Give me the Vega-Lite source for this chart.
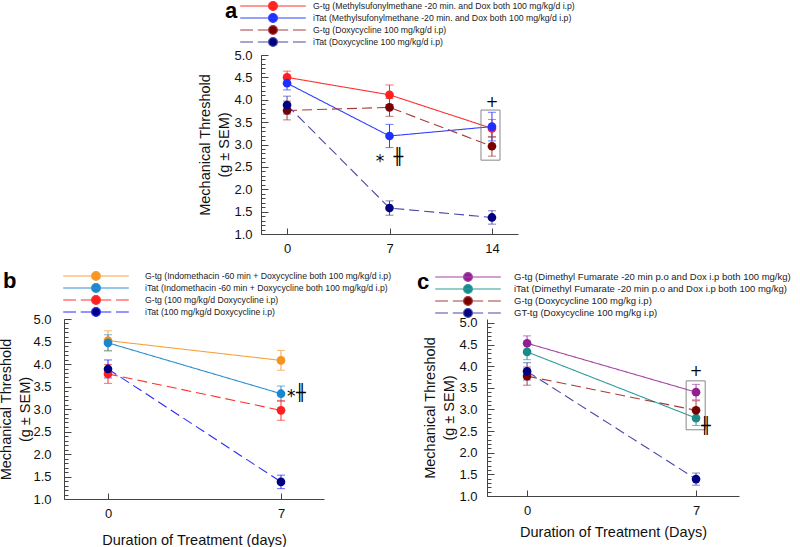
{
  "$schema": "https://vega.github.io/schema/vega-lite/v6.json",
  "background": "white",
  "padding": {"left": -2, "top": 1, "right": 0, "bottom": 0},
  "spacing": 16,
  "resolve": {"scale": {"x": "independent", "y": "independent", "color": "independent", "fill": "independent", "stroke": "independent", "shape": "independent", "strokeDash": "independent", "size": "independent"}, "legend": {"fill": "independent", "stroke": "independent", "shape": "independent", "color": "independent", "strokeDash": "independent", "size": "independent"}},
  "config": {
    "font": "Liberation Sans",
    "view": {"stroke": null},
    "axis": {"labelFont": "Liberation Sans", "titleFont": "Liberation Sans", "labelFontSize": 13, "titleFontSize": 14.5, "titleFontWeight": "normal", "labelColor": "#111", "titleColor": "#111", "domainColor": "#444", "tickColor": "#444", "grid": false, "titleLineHeight": 19},
    "legend": {"labelFont": "Liberation Sans", "labelColor": "#222", "titleFont": "Liberation Sans", "titleColor": "#000", "labelLimit": 600, "titleLimit": 100, "symbolSize": 64, "symbolStrokeWidth": 1.2, "rowPadding": 0, "padding": 0}
  },
  "datasets": {
    "a": [
      {"series": "G-tg (Methylsufonylmethane -20 min. and Dox both 100 mg/kg/d i.p)", "day": 0, "mean": 4.50, "sem": 0.14},
      {"series": "G-tg (Methylsufonylmethane -20 min. and Dox both 100 mg/kg/d i.p)", "day": 7, "mean": 4.11, "sem": 0.22},
      {"series": "G-tg (Methylsufonylmethane -20 min. and Dox both 100 mg/kg/d i.p)", "day": 14, "mean": 3.36, "sem": 0.20},
      {"series": "iTat (Methylsufonylmethane -20 min. and Dox both 100 mg/kg/d i.p)", "day": 0, "mean": 4.37, "sem": 0.15},
      {"series": "iTat (Methylsufonylmethane -20 min. and Dox both 100 mg/kg/d i.p)", "day": 7, "mean": 3.19, "sem": 0.26},
      {"series": "iTat (Methylsufonylmethane -20 min. and Dox both 100 mg/kg/d i.p)", "day": 14, "mean": 3.40, "sem": 0.32},
      {"series": "G-tg (Doxycycline 100 mg/kg/d i.p)", "day": 0, "mean": 3.76, "sem": 0.21},
      {"series": "G-tg (Doxycycline 100 mg/kg/d i.p)", "day": 7, "mean": 3.83, "sem": 0.20},
      {"series": "G-tg (Doxycycline 100 mg/kg/d i.p)", "day": 14, "mean": 2.96, "sem": 0.22},
      {"series": "iTat (Doxycycline 100 mg/kg/d i.p)", "day": 0, "mean": 3.88, "sem": 0.20},
      {"series": "iTat (Doxycycline 100 mg/kg/d i.p)", "day": 7, "mean": 1.58, "sem": 0.16},
      {"series": "iTat (Doxycycline 100 mg/kg/d i.p)", "day": 14, "mean": 1.37, "sem": 0.15}
    ],
    "a_box": [{"day": 13.25, "day2": 14.55, "mean": 2.65, "mean2": 3.77}],
    "a_txt": [
      {"label": "*", "day": 6.35, "mean": 2.62},
      {"label": "╫", "day": 7.6, "mean": 2.72},
      {"label": "+", "day": 14.0, "mean": 3.95}
    ],
    "b": [
      {"series": "G-tg (Indomethacin -60 min + Doxycycline both 100 mg/kg/d i.p)", "day": 0, "mean": 4.52, "sem": 0.22},
      {"series": "G-tg (Indomethacin -60 min + Doxycycline both 100 mg/kg/d i.p)", "day": 7, "mean": 4.08, "sem": 0.22},
      {"series": "iTat (Indomethacin -60 min + Doxycycline both 100 mg/kg/d i.p)", "day": 0, "mean": 4.47, "sem": 0.18},
      {"series": "iTat (Indomethacin -60 min + Doxycycline both 100 mg/kg/d i.p)", "day": 7, "mean": 3.34, "sem": 0.17},
      {"series": "G-tg (100 mg/kg/d Doxycycline i.p)", "day": 0, "mean": 3.78, "sem": 0.21},
      {"series": "G-tg (100 mg/kg/d Doxycycline i.p)", "day": 7, "mean": 2.97, "sem": 0.22},
      {"series": "iTat (100 mg/kg/d Doxycycline i.p)", "day": 0, "mean": 3.89, "sem": 0.20},
      {"series": "iTat (100 mg/kg/d Doxycycline i.p)", "day": 7, "mean": 1.38, "sem": 0.15}
    ],
    "b_txt": [
      {"label": "*", "day": 7.41, "mean": 3.26},
      {"label": "╫", "day": 7.8, "mean": 3.36}
    ],
    "c": [
      {"series": "G-tg (Dimethyl Fumarate -20 min p.o and Dox i.p both 100 mg/kg)", "day": 0, "mean": 4.53, "sem": 0.17},
      {"series": "G-tg (Dimethyl Fumarate -20 min p.o and Dox i.p both 100 mg/kg)", "day": 7, "mean": 3.40, "sem": 0.18},
      {"series": "iTat (Dimethyl Fumarate -20 min p.o and Dox i.p both 100 mg/kg)", "day": 0, "mean": 4.33, "sem": 0.18},
      {"series": "iTat (Dimethyl Fumarate -20 min p.o and Dox i.p both 100 mg/kg)", "day": 7, "mean": 2.80, "sem": 0.17},
      {"series": "G-tg (Doxycycline 100 mg/kg i.p)", "day": 0, "mean": 3.77, "sem": 0.21},
      {"series": "G-tg (Doxycycline 100 mg/kg i.p)", "day": 7, "mean": 2.98, "sem": 0.22},
      {"series": "GT-tg (Doxycycline 100 mg/kg i.p)", "day": 0, "mean": 3.88, "sem": 0.20},
      {"series": "GT-tg (Doxycycline 100 mg/kg i.p)", "day": 7, "mean": 1.39, "sem": 0.14}
    ],
    "c_box": [{"day": 6.59, "day2": 7.38, "mean": 2.53, "mean2": 3.66}],
    "c_txt": [
      {"label": "+", "day": 7.0, "mean": 3.89},
      {"label": "╫", "day": 7.41, "mean": 2.62}
    ]
  },
  "vconcat": [
    {
      "bounds": "flush",
      "spacing": 0,
      "resolve": {"scale": {"x": "independent", "y": "independent", "color": "independent", "fill": "independent", "stroke": "independent", "shape": "independent", "strokeDash": "independent", "size": "independent"}, "legend": {"fill": "independent", "stroke": "independent", "shape": "independent", "color": "independent", "strokeDash": "independent", "size": "independent"}},
      "hconcat": [
        {"width": 197, "height": 179, "data": {"values": [{}]}, "mark": {"type": "point", "opacity": 0}, "encoding": {}},
        {
          "width": 257, "height": 179,
          "data": {"name": "a"},
          "resolve": {"axis": {"y": "independent"}},
          "layer": [
            {
              "mark": {"type": "line", "strokeWidth": 1.1},
              "encoding": {
                "x": {"field": "day", "type": "quantitative", "scale": {"domain": [-1.78, 15.78], "nice": false, "zero": false}, "axis": {"values": [0, 7, 14], "format": "d", "tickSize": -6, "labelPadding": 14, "title": null}},
                "y": {"field": "mean", "type": "quantitative", "scale": {"domain": [1, 5], "nice": false, "zero": false}, "axis": {"orient": "left", "values": [1, 1.5, 2, 2.5, 3, 3.5, 4, 4.5, 5], "format": ".1f", "tickSize": -7, "labelPadding": 16, "title": ["Mechanical Threshold", "(g ± SEM)"], "titlePadding": 2}},
                "color": {"field": "series", "type": "nominal", "scale": {"domain": ["iTat (Methylsufonylmethane -20 min. and Dox both 100 mg/kg/d i.p)", "G-tg (Methylsufonylmethane -20 min. and Dox both 100 mg/kg/d i.p)", "G-tg (Doxycycline 100 mg/kg/d i.p)", "iTat (Doxycycline 100 mg/kg/d i.p)"], "range": ["#3040ff", "#ff3030", "#a53c3c", "#4a4aa8"]}, "legend": null},
                "strokeDash": {"field": "series", "type": "nominal", "scale": {"domain": ["iTat (Methylsufonylmethane -20 min. and Dox both 100 mg/kg/d i.p)", "G-tg (Methylsufonylmethane -20 min. and Dox both 100 mg/kg/d i.p)", "G-tg (Doxycycline 100 mg/kg/d i.p)", "iTat (Doxycycline 100 mg/kg/d i.p)"], "range": [[1, 0], [1, 0], [10, 5], [10, 5]]}, "legend": null}
              }
            },
            {
              "mark": {"type": "errorbar", "ticks": {"size": 8}, "rule": {"strokeWidth": 1}},
              "encoding": {
                "x": {"field": "day", "type": "quantitative"},
                "y": {"field": "mean", "type": "quantitative", "axis": null},
                "yError": {"field": "sem"},
                "color": {"field": "series", "type": "nominal", "legend": null}
              }
            },
            {
              "data": {"values": []},
              "mark": {"type": "point", "filled": true, "opacity": 1, "strokeWidth": 1.2},
              "encoding": {
                "shape": {"field": "series", "type": "nominal", "scale": {"domain": ["G-tg (Methylsufonylmethane -20 min. and Dox both 100 mg/kg/d i.p)", "iTat (Methylsufonylmethane -20 min. and Dox both 100 mg/kg/d i.p)", "G-tg (Doxycycline 100 mg/kg/d i.p)", "iTat (Doxycycline 100 mg/kg/d i.p)"], "range": ["M-8.2,0H8.2M1.1,0A1.1,1.1,0,1,1,-1.1,0A1.1,1.1,0,1,1,1.1,0Z", "M-8.2,0H8.2M1.1,0A1.1,1.1,0,1,1,-1.1,0A1.1,1.1,0,1,1,1.1,0Z", "M-8.2,0H-5M-3.8,0H-1M1,0H3.8M5,0H8.2M1.1,0A1.1,1.1,0,1,1,-1.1,0A1.1,1.1,0,1,1,1.1,0Z", "M-8.2,0H-5M-3.8,0H-1M1,0H3.8M5,0H8.2M1.1,0A1.1,1.1,0,1,1,-1.1,0A1.1,1.1,0,1,1,1.1,0Z"]},
                  "legend": {"orient": "none", "legendX": -36, "legendY": -54, "title": "a", "titleOrient": "left", "titleFontSize": 22, "titleFontWeight": "bold", "titleAnchor": "start", "titleBaseline": "top", "titlePadding": 30, "labelFontSize": 8.7, "labelOffset": 35, "rowPadding": -3}},
                "stroke": {"field": "series", "type": "nominal", "scale": {"domain": ["G-tg (Methylsufonylmethane -20 min. and Dox both 100 mg/kg/d i.p)", "iTat (Methylsufonylmethane -20 min. and Dox both 100 mg/kg/d i.p)", "G-tg (Doxycycline 100 mg/kg/d i.p)", "iTat (Doxycycline 100 mg/kg/d i.p)"], "range": ["#ff3030", "#3040ff", "#a53c3c", "#4a4aa8"]},
                  "legend": {"orient": "none", "legendX": -36, "legendY": -54, "title": "a", "titleOrient": "left", "titleFontSize": 22, "titleFontWeight": "bold", "titleAnchor": "start", "titleBaseline": "top", "titlePadding": 30, "labelFontSize": 8.7, "labelOffset": 35, "rowPadding": -3}}
              }
            },
            {
              "mark": {"type": "point", "filled": true, "size": 75, "opacity": 1, "strokeWidth": 0},
              "encoding": {
                "x": {"field": "day", "type": "quantitative"},
                "y": {"field": "mean", "type": "quantitative", "axis": {"orient": "left", "values": [1, 1.1, 1.2, 1.3, 1.4, 1.5, 1.6, 1.7, 1.8, 1.9, 2, 2.1, 2.2, 2.3, 2.4, 2.5, 2.6, 2.7, 2.8, 2.9, 3, 3.1, 3.2, 3.3, 3.4, 3.5, 3.6, 3.7, 3.8, 3.9, 4, 4.1, 4.2, 4.3, 4.4, 4.5, 4.6, 4.7, 4.8, 4.9, 5], "tickSize": -4, "labels": false, "domain": false, "title": null}},
                "fill": {"field": "series", "type": "nominal", "scale": {"domain": ["G-tg (Methylsufonylmethane -20 min. and Dox both 100 mg/kg/d i.p)", "iTat (Methylsufonylmethane -20 min. and Dox both 100 mg/kg/d i.p)", "G-tg (Doxycycline 100 mg/kg/d i.p)", "iTat (Doxycycline 100 mg/kg/d i.p)"], "range": ["#ff1f1f", "#1f2fff", "#7a0000", "#000080"]},
                  "legend": {"orient": "none", "legendX": -36, "legendY": -54, "title": "a", "titleOrient": "left", "titleFontSize": 22, "titleFontWeight": "bold", "titleAnchor": "start", "titleBaseline": "top", "titlePadding": 30, "labelFontSize": 8.7, "labelOffset": 35, "rowPadding": -3}}
              }
            },
            {
              "data": {"name": "a_box"},
              "mark": {"type": "rect", "fill": null, "stroke": "#888888", "strokeWidth": 1},
              "encoding": {
                "x": {"field": "day", "type": "quantitative"}, "x2": {"field": "day2"},
                "y": {"field": "mean", "type": "quantitative", "axis": null}, "y2": {"field": "mean2"}
              }
            },
            {
              "data": {"name": "a_txt"},
              "mark": {"type": "text", "font": "DejaVu Sans", "color": "#000", "baseline": "middle", "align": "center"},
              "encoding": {
                "x": {"field": "day", "type": "quantitative"},
                "y": {"field": "mean", "type": "quantitative", "axis": null},
                "text": {"field": "label"},
                "size": {"field": "label", "type": "ordinal", "scale": {"domain": ["*", "╫", "+"], "range": [17, 15, 20]}, "legend": null}
              }
            }
          ]
        }
      ]
    },
    {
      "bounds": "flush",
      "spacing": 163,
      "resolve": {"scale": {"x": "independent", "y": "independent", "color": "independent", "fill": "independent", "stroke": "independent", "shape": "independent", "strokeDash": "independent", "size": "independent"}, "legend": {"fill": "independent", "stroke": "independent", "shape": "independent", "color": "independent", "strokeDash": "independent", "size": "independent"}},
      "hconcat": [
        {
          "width": 260, "height": 180,
          "data": {"name": "b"},
          "resolve": {"axis": {"y": "independent"}},
          "layer": [
            {
              "mark": {"type": "line", "strokeWidth": 1.1},
              "encoding": {
                "x": {"field": "day", "type": "quantitative", "scale": {"domain": [-1.78, 8.74], "nice": false, "zero": false}, "axis": {"values": [0, 7], "format": "d", "tickSize": -6, "labelPadding": 14, "title": "Duration of Treatment (days)", "titlePadding": 13}},
                "y": {"field": "mean", "type": "quantitative", "scale": {"domain": [1, 5], "nice": false, "zero": false}, "axis": {"orient": "left", "values": [1, 1.5, 2, 2.5, 3, 3.5, 4, 4.5, 5], "format": ".1f", "tickSize": -7, "labelPadding": 20, "title": ["Mechanical Threshold", "(g ± SEM)"], "titlePadding": 0}},
                "color": {"field": "series", "type": "nominal", "scale": {"domain": ["iTat (Indomethacin -60 min + Doxycycline both 100 mg/kg/d i.p)", "G-tg (Indomethacin -60 min + Doxycycline both 100 mg/kg/d i.p)", "G-tg (100 mg/kg/d Doxycycline i.p)", "iTat (100 mg/kg/d Doxycycline i.p)"], "range": ["#2e8fd0", "#f7a23e", "#ff3030", "#2a2aff"]}, "legend": null},
                "strokeDash": {"field": "series", "type": "nominal", "scale": {"domain": ["iTat (Indomethacin -60 min + Doxycycline both 100 mg/kg/d i.p)", "G-tg (Indomethacin -60 min + Doxycycline both 100 mg/kg/d i.p)", "G-tg (100 mg/kg/d Doxycycline i.p)", "iTat (100 mg/kg/d Doxycycline i.p)"], "range": [[1, 0], [1, 0], [10, 5], [10, 5]]}, "legend": null}
              }
            },
            {
              "mark": {"type": "errorbar", "ticks": {"size": 8}, "rule": {"strokeWidth": 1}},
              "encoding": {
                "x": {"field": "day", "type": "quantitative"},
                "y": {"field": "mean", "type": "quantitative", "axis": null},
                "yError": {"field": "sem"},
                "color": {"field": "series", "type": "nominal", "legend": null}
              }
            },
            {
              "data": {"values": []},
              "mark": {"type": "point", "filled": true, "opacity": 1, "strokeWidth": 1.2},
              "encoding": {
                "shape": {"field": "series", "type": "nominal", "scale": {"domain": ["G-tg (Indomethacin -60 min + Doxycycline both 100 mg/kg/d i.p)", "iTat (Indomethacin -60 min + Doxycycline both 100 mg/kg/d i.p)", "G-tg (100 mg/kg/d Doxycycline i.p)", "iTat (100 mg/kg/d Doxycycline i.p)"], "range": ["M-8.2,0H8.2M1.1,0A1.1,1.1,0,1,1,-1.1,0A1.1,1.1,0,1,1,1.1,0Z", "M-8.2,0H8.2M1.1,0A1.1,1.1,0,1,1,-1.1,0A1.1,1.1,0,1,1,1.1,0Z", "M-8.2,0H-5M-3.8,0H-1M1,0H3.8M5,0H8.2M1.1,0A1.1,1.1,0,1,1,-1.1,0A1.1,1.1,0,1,1,1.1,0Z", "M-8.2,0H-5M-3.8,0H-1M1,0H3.8M5,0H8.2M1.1,0A1.1,1.1,0,1,1,-1.1,0A1.1,1.1,0,1,1,1.1,0Z"]},
                  "legend": {"orient": "none", "legendX": -61, "legendY": -48, "title": "b", "titleOrient": "left", "titleFontSize": 22, "titleFontWeight": "bold", "titleAnchor": "start", "titleBaseline": "top", "titlePadding": 74, "labelFontSize": 8.7, "labelOffset": 44, "rowPadding": -4}},
                "stroke": {"field": "series", "type": "nominal", "scale": {"domain": ["G-tg (Indomethacin -60 min + Doxycycline both 100 mg/kg/d i.p)", "iTat (Indomethacin -60 min + Doxycycline both 100 mg/kg/d i.p)", "G-tg (100 mg/kg/d Doxycycline i.p)", "iTat (100 mg/kg/d Doxycycline i.p)"], "range": ["#f7a23e", "#2e8fd0", "#ff3030", "#2a2aff"]},
                  "legend": {"orient": "none", "legendX": -61, "legendY": -48, "title": "b", "titleOrient": "left", "titleFontSize": 22, "titleFontWeight": "bold", "titleAnchor": "start", "titleBaseline": "top", "titlePadding": 74, "labelFontSize": 8.7, "labelOffset": 44, "rowPadding": -4}}
              }
            },
            {
              "mark": {"type": "point", "filled": true, "size": 75, "opacity": 1, "strokeWidth": 0},
              "encoding": {
                "x": {"field": "day", "type": "quantitative"},
                "y": {"field": "mean", "type": "quantitative", "axis": {"orient": "left", "values": [1, 1.1, 1.2, 1.3, 1.4, 1.5, 1.6, 1.7, 1.8, 1.9, 2, 2.1, 2.2, 2.3, 2.4, 2.5, 2.6, 2.7, 2.8, 2.9, 3, 3.1, 3.2, 3.3, 3.4, 3.5, 3.6, 3.7, 3.8, 3.9, 4, 4.1, 4.2, 4.3, 4.4, 4.5, 4.6, 4.7, 4.8, 4.9, 5], "tickSize": -4, "labels": false, "domain": false, "title": null}},
                "fill": {"field": "series", "type": "nominal", "scale": {"domain": ["G-tg (Indomethacin -60 min + Doxycycline both 100 mg/kg/d i.p)", "iTat (Indomethacin -60 min + Doxycycline both 100 mg/kg/d i.p)", "G-tg (100 mg/kg/d Doxycycline i.p)", "iTat (100 mg/kg/d Doxycycline i.p)"], "range": ["#f7931e", "#1a86cc", "#ff1f1f", "#000080"]},
                  "legend": {"orient": "none", "legendX": -61, "legendY": -48, "title": "b", "titleOrient": "left", "titleFontSize": 22, "titleFontWeight": "bold", "titleAnchor": "start", "titleBaseline": "top", "titlePadding": 74, "labelFontSize": 8.7, "labelOffset": 44, "rowPadding": -4}}
              }
            },
            {
              "data": {"name": "b_txt"},
              "mark": {"type": "text", "font": "DejaVu Sans", "color": "#000", "baseline": "middle", "align": "center"},
              "encoding": {
                "x": {"field": "day", "type": "quantitative"},
                "y": {"field": "mean", "type": "quantitative", "axis": null},
                "text": {"field": "label"},
                "size": {"field": "label", "type": "ordinal", "scale": {"domain": ["*", "╫", "+"], "range": [17, 15, 20]}, "legend": null}
              }
            }
          ]
        },
        {
          "width": 252, "height": 177,
          "data": {"name": "c"},
          "resolve": {"axis": {"y": "independent"}},
          "layer": [
            {
              "mark": {"type": "line", "strokeWidth": 1.1},
              "encoding": {
                "x": {"field": "day", "type": "quantitative", "scale": {"domain": [-1.66, 8.78], "nice": false, "zero": false}, "axis": {"values": [0, 7], "format": "d", "tickSize": -6, "labelPadding": 14, "title": "Duration of Treatment (Days)", "titlePadding": 8}},
                "y": {"field": "mean", "type": "quantitative", "scale": {"domain": [1, 5.09], "nice": false, "zero": false}, "axis": {"orient": "left", "values": [1, 1.5, 2, 2.5, 3, 3.5, 4, 4.5, 5], "format": ".1f", "tickSize": -7, "labelPadding": 17, "title": ["Mechanical Threshold", "(g ± SEM)"], "titlePadding": 2}},
                "color": {"field": "series", "type": "nominal", "scale": {"domain": ["iTat (Dimethyl Fumarate -20 min p.o and Dox i.p both 100 mg/kg)", "G-tg (Dimethyl Fumarate -20 min p.o and Dox i.p both 100 mg/kg)", "G-tg (Doxycycline 100 mg/kg i.p)", "GT-tg (Doxycycline 100 mg/kg i.p)"], "range": ["#2d9c9c", "#a545a5", "#a53c3c", "#4a4aa8"]}, "legend": null},
                "strokeDash": {"field": "series", "type": "nominal", "scale": {"domain": ["iTat (Dimethyl Fumarate -20 min p.o and Dox i.p both 100 mg/kg)", "G-tg (Dimethyl Fumarate -20 min p.o and Dox i.p both 100 mg/kg)", "G-tg (Doxycycline 100 mg/kg i.p)", "GT-tg (Doxycycline 100 mg/kg i.p)"], "range": [[1, 0], [1, 0], [10, 5], [10, 5]]}, "legend": null}
              }
            },
            {
              "mark": {"type": "errorbar", "ticks": {"size": 8}, "rule": {"strokeWidth": 1}},
              "encoding": {
                "x": {"field": "day", "type": "quantitative"},
                "y": {"field": "mean", "type": "quantitative", "axis": null},
                "yError": {"field": "sem"},
                "color": {"field": "series", "type": "nominal", "legend": null}
              }
            },
            {
              "data": {"values": []},
              "mark": {"type": "point", "filled": true, "opacity": 1, "strokeWidth": 1.2},
              "encoding": {
                "shape": {"field": "series", "type": "nominal", "scale": {"domain": ["G-tg (Dimethyl Fumarate -20 min p.o and Dox i.p both 100 mg/kg)", "iTat (Dimethyl Fumarate -20 min p.o and Dox i.p both 100 mg/kg)", "G-tg (Doxycycline 100 mg/kg i.p)", "GT-tg (Doxycycline 100 mg/kg i.p)"], "range": ["M-8.2,0H8.2M1.1,0A1.1,1.1,0,1,1,-1.1,0A1.1,1.1,0,1,1,1.1,0Z", "M-8.2,0H8.2M1.1,0A1.1,1.1,0,1,1,-1.1,0A1.1,1.1,0,1,1,1.1,0Z", "M-8.2,0H-5M-3.8,0H-1M1,0H3.8M5,0H8.2M1.1,0A1.1,1.1,0,1,1,-1.1,0A1.1,1.1,0,1,1,1.1,0Z", "M-8.2,0H-5M-3.8,0H-1M1,0H3.8M5,0H8.2M1.1,0A1.1,1.1,0,1,1,-1.1,0A1.1,1.1,0,1,1,1.1,0Z"]},
                  "legend": {"orient": "none", "legendX": -70, "legendY": -47, "title": "c", "titleOrient": "left", "titleFontSize": 22, "titleFontWeight": "bold", "titleAnchor": "start", "titleBaseline": "top", "titlePadding": 33, "labelFontSize": 9.5, "labelOffset": 41, "rowPadding": -4}},
                "stroke": {"field": "series", "type": "nominal", "scale": {"domain": ["G-tg (Dimethyl Fumarate -20 min p.o and Dox i.p both 100 mg/kg)", "iTat (Dimethyl Fumarate -20 min p.o and Dox i.p both 100 mg/kg)", "G-tg (Doxycycline 100 mg/kg i.p)", "GT-tg (Doxycycline 100 mg/kg i.p)"], "range": ["#a545a5", "#2d9c9c", "#a53c3c", "#4a4aa8"]},
                  "legend": {"orient": "none", "legendX": -70, "legendY": -47, "title": "c", "titleOrient": "left", "titleFontSize": 22, "titleFontWeight": "bold", "titleAnchor": "start", "titleBaseline": "top", "titlePadding": 33, "labelFontSize": 9.5, "labelOffset": 41, "rowPadding": -4}}
              }
            },
            {
              "mark": {"type": "point", "filled": true, "size": 75, "opacity": 1, "strokeWidth": 0},
              "encoding": {
                "x": {"field": "day", "type": "quantitative"},
                "y": {"field": "mean", "type": "quantitative", "axis": {"orient": "left", "values": [1, 1.1, 1.2, 1.3, 1.4, 1.5, 1.6, 1.7, 1.8, 1.9, 2, 2.1, 2.2, 2.3, 2.4, 2.5, 2.6, 2.7, 2.8, 2.9, 3, 3.1, 3.2, 3.3, 3.4, 3.5, 3.6, 3.7, 3.8, 3.9, 4, 4.1, 4.2, 4.3, 4.4, 4.5, 4.6, 4.7, 4.8, 4.9, 5], "tickSize": -4, "labels": false, "domain": false, "title": null}},
                "fill": {"field": "series", "type": "nominal", "scale": {"domain": ["G-tg (Dimethyl Fumarate -20 min p.o and Dox i.p both 100 mg/kg)", "iTat (Dimethyl Fumarate -20 min p.o and Dox i.p both 100 mg/kg)", "G-tg (Doxycycline 100 mg/kg i.p)", "GT-tg (Doxycycline 100 mg/kg i.p)"], "range": ["#902090", "#1a8a8a", "#7a0000", "#000080"]},
                  "legend": {"orient": "none", "legendX": -70, "legendY": -47, "title": "c", "titleOrient": "left", "titleFontSize": 22, "titleFontWeight": "bold", "titleAnchor": "start", "titleBaseline": "top", "titlePadding": 33, "labelFontSize": 9.5, "labelOffset": 41, "rowPadding": -4}}
              }
            },
            {
              "data": {"name": "c_box"},
              "mark": {"type": "rect", "fill": null, "stroke": "#888888", "strokeWidth": 1},
              "encoding": {
                "x": {"field": "day", "type": "quantitative"}, "x2": {"field": "day2"},
                "y": {"field": "mean", "type": "quantitative", "axis": null}, "y2": {"field": "mean2"}
              }
            },
            {
              "data": {"name": "c_txt"},
              "mark": {"type": "text", "font": "DejaVu Sans", "color": "#000", "baseline": "middle", "align": "center"},
              "encoding": {
                "x": {"field": "day", "type": "quantitative"},
                "y": {"field": "mean", "type": "quantitative", "axis": null},
                "text": {"field": "label"},
                "size": {"field": "label", "type": "ordinal", "scale": {"domain": ["*", "╫", "+"], "range": [17, 15, 20]}, "legend": null}
              }
            }
          ]
        }
      ]
    }
  ]
}
